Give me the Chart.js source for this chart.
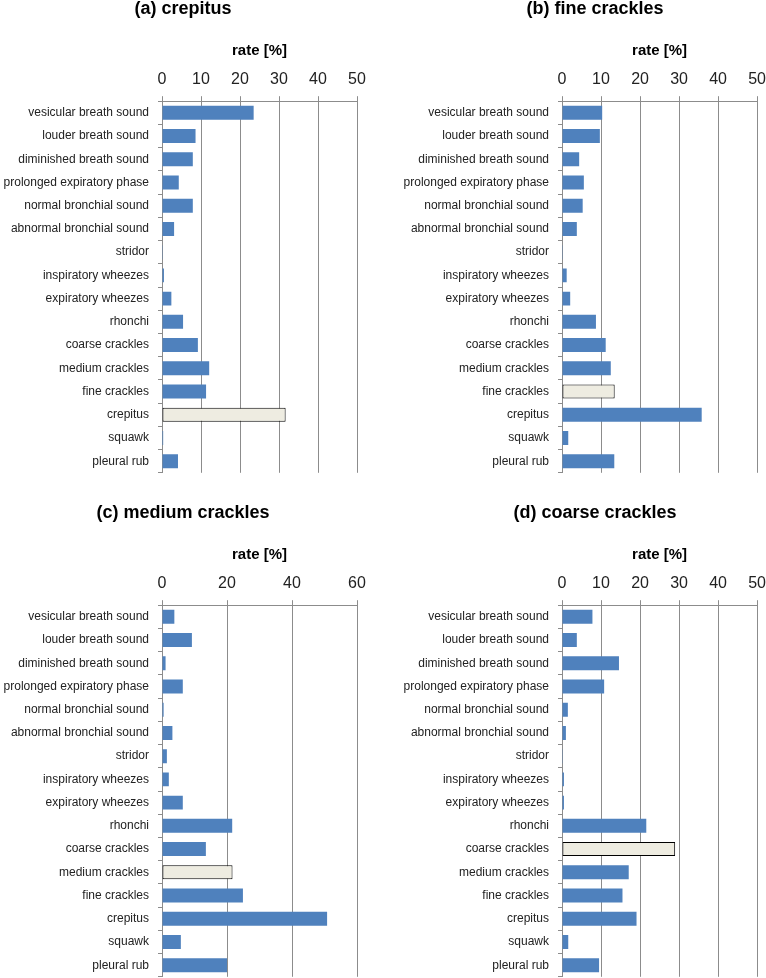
<!DOCTYPE html>
<html>
<head>
<meta charset="utf-8">
<script src="https://cdn.jsdelivr.net/npm/chart.js@4/dist/chart.umd.min.js"></script>
<style>
  body { margin: 0; background: #fff; }
  #wrap { position: relative; width: 766px; height: 978px; overflow: hidden; }
  .panel { position: absolute; height: 489px; }
  .left { width: 383px; }
  .right { width: 390px; }
</style>
</head>
<body>
<div id="wrap">
  <div class="panel left" style="left:0;top:0"><canvas id="chartA"></canvas></div>
  <div class="panel right" style="left:383px;top:0"><canvas id="chartB"></canvas></div>
  <div class="panel left" style="left:0;top:504px"><canvas id="chartC"></canvas></div>
  <div class="panel right" style="left:383px;top:504px"><canvas id="chartD"></canvas></div>
</div>
<script>
// カテゴリ（聴診音）
var categories = [
  'vesicular breath sound', 'louder breath sound', 'diminished breath sound',
  'prolonged expiratory phase', 'normal bronchial sound', 'abnormal bronchial sound',
  'stridor', 'inspiratory wheezes', 'expiratory wheezes', 'rhonchi',
  'coarse crackles', 'medium crackles', 'fine crackles', 'crepitus',
  'squawk', 'pleural rub'
];

// 各パネルの値 [%]
var crepitusRates = [23.5, 8.6, 7.9, 4.3, 7.9, 3.1, 0.2, 0.5, 2.4, 5.4, 9.2, 12.1, 11.3, 31.7, 0.3, 4.1];
var fineRates     = [10.3, 9.7, 4.4, 5.6, 5.3, 3.8, 0.2, 1.2, 2.1, 8.7, 11.2, 12.5, 13.5, 35.8, 1.6, 13.4];
var mediumRates   = [3.8, 9.2, 1.1, 6.4, 0.5, 3.2, 1.5, 2.1, 6.4, 21.6, 13.5, 21.7, 24.9, 50.8, 5.8, 20.0];
var coarseRates   = [7.8, 3.8, 14.6, 10.8, 1.5, 1.0, 0.2, 0.5, 0.5, 21.6, 29.0, 17.1, 15.5, 19.1, 1.6, 9.5];

// 目盛り
var ticks50 = [0, 10, 20, 30, 40, 50];
var ticks60 = [0, 20, 40, 60];

var FONT = '"Liberation Sans", Arial, sans-serif';
var BLUE = '#4f81bd';
var BEIGE = '#eeece1';
var GRID = '#8c8c8c';

// タイトルの横位置を調整する
var titleShift = {
  id: 'titleShift',
  afterLayout: function (chart, args, opts) {
    var tb = chart.titleBlock;
    if (!tb || opts.center == null) return;
    var w = tb.right - tb.left;
    tb.left = opts.center - w / 2;
    tb.right = tb.left + w;
  }
};

function makeChart(id, title, values, highlight, tickList, side) {
  var left = side === 'left';
  var ctx = document.getElementById(id).getContext('2d');
  return new Chart(ctx, {
    type: 'bar',
    data: {
      labels: categories,
      datasets: [{
        data: values,
        backgroundColor: values.map(function (v, i) { return i === highlight ? BEIGE : BLUE; }),
        borderColor: '#000',
        borderWidth: values.map(function (v, i) { return i === highlight ? 1 : 0; }),
        borderSkipped: false,
        categoryPercentage: 1.0,
        barPercentage: 0.6
      }]
    },
    plugins: [titleShift],
    options: {
      indexAxis: 'y', // 横棒グラフ
      responsive: true,
      maintainAspectRatio: false,
      animation: false,
      layout: { padding: { top: 0, bottom: 0, left: left ? 0 : 17, right: left ? 26 : 0 } },
      plugins: {
        legend: { display: false },
        tooltip: { enabled: false },
        titleShift: { center: left ? 183 : 212 },
        title: {
          display: true,
          text: title,
          color: '#000',
          font: { family: FONT, size: 18, weight: 'bold', lineHeight: 1 },
          padding: { top: 0, bottom: 24 }
        }
      },
      scales: {
        x: {
          position: 'top',
          min: 0,
          max: tickList[tickList.length - 1],
          afterBuildTicks: function (scale) {
            scale.ticks = tickList.map(function (v) { return { value: v }; });
          },
          title: {
            display: true,
            text: 'rate [%]',
            color: '#000',
            font: { family: FONT, size: 15, weight: 'bold', lineHeight: 1.2 },
            padding: { top: 0, bottom: 3 }
          },
          ticks: { color: '#222', font: { family: FONT, size: 16 }, padding: 7, maxRotation: 0 },
          grid: { color: GRID, lineWidth: 1, tickLength: 5 },
          border: { display: true, color: GRID }
        },
        y: {
          afterFit: function (scale) { scale.width = 162; },
          ticks: { color: '#222', font: { family: FONT, size: 12 }, padding: 9, autoSkip: false },
          grid: { drawOnChartArea: false, color: GRID, tickLength: 4, offset: true },
          border: { display: true, color: GRID }
        }
      }
    }
  });
}

makeChart('chartA', '(a) crepitus', crepitusRates, 13, ticks50, 'left');
makeChart('chartB', '(b) fine crackles', fineRates, 12, ticks50, 'right');
makeChart('chartC', '(c) medium crackles', mediumRates, 11, ticks60, 'left');
makeChart('chartD', '(d) coarse crackles', coarseRates, 10, ticks50, 'right');
</script>
</body>
</html>
